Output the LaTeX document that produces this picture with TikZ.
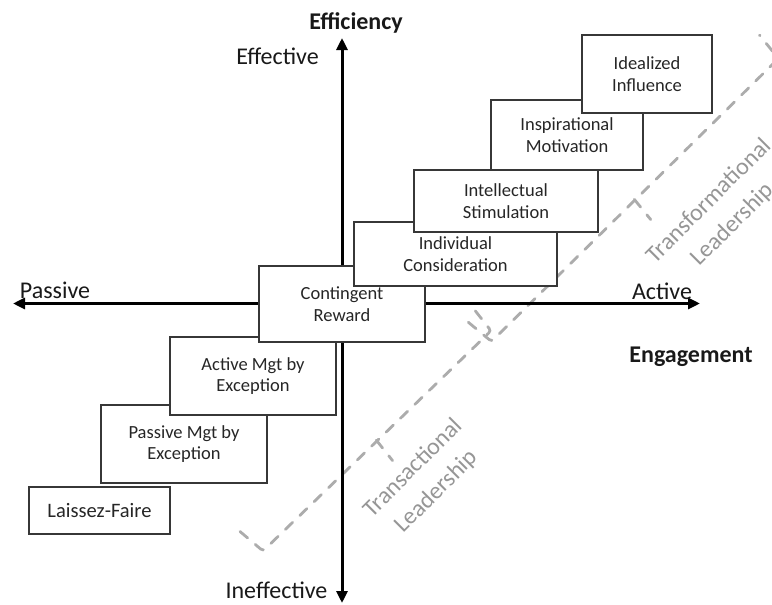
\documentclass[tikz,border=0pt]{standalone}
\usepackage{fontspec}
\setmainfont{Carlito}
\usetikzlibrary{arrows.meta}
\definecolor{bracegray}{RGB}{172,172,172}
\definecolor{textgray}{RGB}{150,150,150}
\definecolor{boxline}{RGB}{55,55,55}
\begin{document}
\begin{tikzpicture}[x=1pt,y=-1pt,
  box/.style={draw=boxline, line width=1.6pt, fill=white, align=center, inner sep=0pt,
    font=\fontsize{18.5}{21.5}\selectfont, text=black!85},
  axislabel/.style={font=\fontsize{24}{28}\selectfont, inner sep=0pt, anchor=base, text=black!90},
  boldlabel/.style={axislabel, font=\fontsize{24}{28}\selectfont\bfseries},
  axis/.style={line width=3pt, {Triangle[length=12pt,width=11pt]}-{Triangle[length=12pt,width=11pt]}},
  bracepath/.style={draw=bracegray, line width=2.8pt, dash pattern=on 10pt off 10pt, line cap=round, rounded corners=3pt},
  leader/.style={text=textgray, font=\fontsize{24}{33}\selectfont, align=center, rotate=45, inner sep=0pt}
]
\useasboundingbox (0,0) rectangle (772,605);
\clip (0,0) rectangle (772,605);

% braces
\begin{scope}[shift={(263,551)}, rotate=44]
  \draw[bracepath] (-3,-30) -- (0,0) -- (317,0) -- (320,-30);
  \draw[bracepath] (158.5,-1) -- (156,25);
\end{scope}
\begin{scope}[shift={(491.5,341.5)}, rotate=44.6]
  \draw[bracepath] (-3,-30) -- (0,0) -- (403,0) -- (406,-30);
  \draw[bracepath] (201.5,-1) -- (199,25);
\end{scope}

% axes
\coordinate (ytop) at (342,38);
\coordinate (ybot) at (342,603);
\coordinate (xl) at (13,303.5);
\coordinate (xr) at (700,303.5);
\draw[axis] (xl) -- (xr);
\draw[axis] (ybot) -- (ytop);

% boxes
\node[box, minimum width=141pt, minimum height=47pt, font=\fontsize{20.5}{24}\selectfont] (lf) at (99.5,510.5) {Laissez-Faire};
\node[box, minimum width=166pt, minimum height=78pt] (pm) at (184,444) {Passive Mgt by\\Exception};
\node[box, minimum width=166pt, minimum height=78pt] (am) at (253,376) {Active Mgt by\\Exception};
\node[box, minimum width=166pt, minimum height=76pt] (cr) at (342,304) {Contingent\\Reward};
\node[box, minimum width=203pt, minimum height=64pt] (ic) at (455.5,254) {Individual\\Consideration};
\node[box, minimum width=184pt, minimum height=62pt] (is) at (506,201) {Intellectual\\Stimulation};
\node[box, minimum width=152pt, minimum height=70pt] (im) at (567,135) {Inspirational\\Motivation};
\node[box, minimum width=130pt, minimum height=78pt] (ii) at (647,74) {Idealized\\Influence};

% labels
\node[boldlabel] (efficiency) at (356,30) {Efficiency};
\node[axislabel] (effective) at (277.5,64) {Effective};
\node[axislabel] (ineffective) at (276.5,598) {Ineffective};
\node[axislabel] (passive) at (55,298) {Passive};
\node[axislabel] (active) at (662,299) {Active};
\node[boldlabel] (engagement) at (691,362) {Engagement};

\node[leader] (tal) at (425,480) {Transactional\\Leadership};
\node[leader] (tfl) at (721,213) {Transformational\\Leadership};
\end{tikzpicture}
\end{document}
